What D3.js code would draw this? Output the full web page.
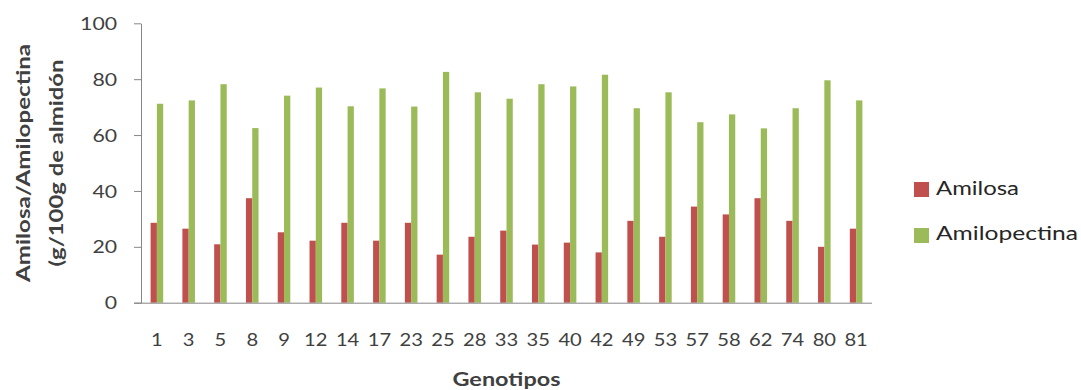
<!DOCTYPE html>
<html>
<head>
<meta charset="utf-8">
<script src="https://cdn.jsdelivr.net/npm/d3@7"></script>
<style>
  html, body { margin: 0; padding: 0; background: #ffffff; }
  svg { display: block; }
</style>
</head>
<body>
<svg id="chart" width="1081" height="390"></svg>
<script>
// Starch composition per genotype (g/100 g starch)
const categories = ["1","3","5","8","9","12","14","17","23","25","28","33","35","40","42","49","53","57","58","62","74","80","81"];
const amilosa = [28.6,26.5,20.9,37.4,25.2,22.2,28.6,22.2,28.6,17.2,23.6,25.8,20.8,21.5,18.0,29.3,23.6,34.4,31.6,37.4,29.3,20.0,26.5];
const amilopectina = [71.2,72.4,78.2,62.5,74.1,77.0,70.3,76.7,70.2,82.6,75.3,73.0,78.2,77.4,81.6,69.6,75.3,64.6,67.4,62.4,69.6,79.6,72.4];
const seriesNames = ["Amilosa", "Amilopectina"];
const seriesColors = ["#C0504D", "#9BBB59"];
const yTicks = [0, 20, 40, 60, 80, 100];

const rows = categories.map((c, i) => ({ cat: c, Amilosa: amilosa[i], Amilopectina: amilopectina[i] }));

const svg = d3.select("#chart");
const FONT = "Lato, 'Open Sans', sans-serif";

const plotLeft = 141, plotRight = 872, plotTop = 23.3, plotBottom = 302.7;

const x = d3.scaleBand().domain(categories).range([plotLeft, plotRight]).padding(0);
const xSub = d3.scaleBand().domain(seriesNames).range([0, x.bandwidth()])
  .paddingInner(0).paddingOuter(1.53);
const y = d3.scaleLinear().domain([0, 100]).range([plotBottom, plotTop]);
const color = d3.scaleOrdinal().domain(seriesNames).range(seriesColors);

// Bars
const groups = svg.append("g").selectAll("g")
  .data(rows).join("g")
  .attr("transform", d => `translate(${x(d.cat)},0)`);
groups.selectAll("rect")
  .data(d => seriesNames.map(k => ({ key: k, value: d[k] })))
  .join("rect")
  .attr("x", d => xSub(d.key))
  .attr("width", xSub.bandwidth())
  .attr("y", d => y(d.value))
  .attr("height", d => y(0) - y(d.value))
  .attr("fill", d => color(d.key));

// Y axis
const sxY = 1.25;
const yAxis = svg.append("g")
  .attr("transform", `translate(${plotLeft},0)`)
  .call(d3.axisLeft(y).tickValues(yTicks).tickSize(7).tickSizeOuter(0));
yAxis.select(".domain").attr("stroke", "#868686");
yAxis.selectAll(".tick line").attr("stroke", "#868686");
yAxis.selectAll(".tick text")
  .attr("font-family", FONT).attr("font-size", 17).attr("fill", "#404040")
  .attr("x", -24 / sxY).attr("dy", "0.36em")
  .attr("transform", `scale(${sxY},1)`);

// X axis: labels are widened horizontally around their tick
const sxX = 1.12;
const xAxis = svg.append("g")
  .attr("transform", `translate(0,${plotBottom + 0.5})`)
  .call(d3.axisBottom(x).tickSize(0).tickSizeOuter(0));
xAxis.select(".domain").attr("stroke", "#868686").attr("d", `M${plotLeft - 7},0H${plotRight}`);
xAxis.selectAll(".tick text")
  .attr("font-family", FONT).attr("font-size", 18).attr("fill", "#404040")
  .attr("x", 0).attr("y", 43).attr("dy", 0)
  .attr("transform", `scale(${sxX},1)`);

// X axis title
svg.append("text")
  .attr("x", (plotLeft + plotRight) / 2).attr("y", 386)
  .attr("text-anchor", "middle")
  .attr("font-family", FONT).attr("font-weight", "bold").attr("font-size", 18)
  .attr("fill", "#404040")
  .attr("textLength", 108).attr("lengthAdjust", "spacingAndGlyphs")
  .text("Genotipos");

// Y axis title (two lines)
const yTitleLines = [
  { text: "Amilosa/Amilopectina", bx: 30, len: 238 },
  { text: "(g/100g de almidón", bx: 63, len: 207 }
];
svg.append("g").selectAll("text")
  .data(yTitleLines).join("text")
  .attr("transform", d => `translate(${d.bx},163) rotate(-90)`)
  .attr("text-anchor", "middle")
  .attr("font-family", FONT).attr("font-weight", "bold").attr("font-size", 19)
  .attr("fill", "#404040")
  .attr("textLength", d => d.len).attr("lengthAdjust", "spacingAndGlyphs")
  .text(d => d.text);

// Legend
const legendItems = [
  { name: seriesNames[0], sy: 182, ty: 195, len: 83 },
  { name: seriesNames[1], sy: 228, ty: 240, len: 142 }
];
const legend = svg.append("g");
legend.selectAll("rect")
  .data(legendItems).join("rect")
  .attr("x", 914).attr("y", d => d.sy)
  .attr("width", 15).attr("height", 15)
  .attr("fill", d => color(d.name));
legend.selectAll("text")
  .data(legendItems).join("text")
  .attr("x", 936).attr("y", d => d.ty)
  .attr("font-family", FONT).attr("font-size", 19.5)
  .attr("fill", "#262626")
  .attr("textLength", d => d.len).attr("lengthAdjust", "spacingAndGlyphs")
  .text(d => d.name);
</script>
</body>
</html>
